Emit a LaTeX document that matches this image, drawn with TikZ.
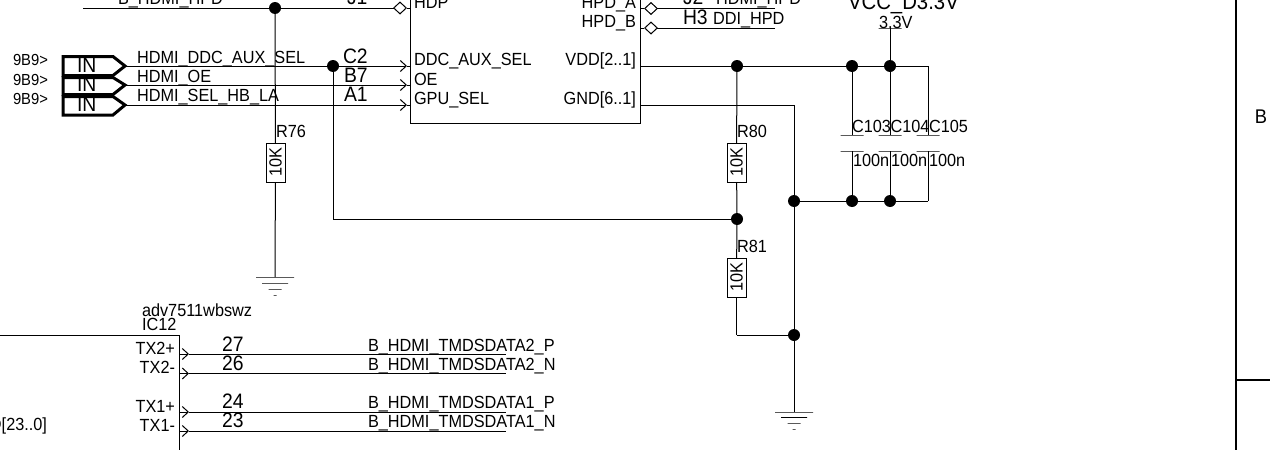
\documentclass[tikz,border=0pt]{standalone}
\usepackage{fontspec}
\setmainfont[FakeStretch=0.925]{Liberation Sans}
\usetikzlibrary{arrows.meta}

\begin{document}
\begin{tikzpicture}[x=1pt,y=-1pt,line width=1pt,
        every node/.style={inner sep=0pt,outer sep=0pt,font=\fontsize{17.6}{17.6}\selectfont},
        txt/.style={anchor=base west},
        rtxt/.style={anchor=base east},
        big/.style={font=\fontsize{20.9}{20.9}\selectfont},
        small/.style={font=\fontsize{16}{16}\selectfont},
        dot/.style={circle,fill=black,minimum size=12pt},
        res/.style={draw,rotate=90,minimum width=39pt,minimum height=19pt},
        bar/.style={draw,line width=.7pt,minimum height=0pt},
        chip/.style={draw},
        flag/.style={line width=3pt,miter limit=2},
        pin/.style={-{Straight Barb[length=6pt,width=11pt,line width=1pt]}},
        bidir/.style={-{Diamond[open,length=14pt,width=13pt,line width=1pt]}}]
        \useasboundingbox (0,0) rectangle (1270,450);
        % chips
        \node[chip,minimum width=230pt,minimum height=140pt] (ic_1) at (525,53) {};
        \node[chip,minimum width=200pt,minimum height=165pt] (ic_12) at (79.5,417.5) {};
        % junctions
        \node[dot] (j_hpd) at (275,8) {};
        \node[dot] (j_sel) at (333,66) {};
        \node[dot] (j_v1) at (737,66) {};
        \node[dot] (j_v2) at (852,66) {};
        \node[dot] (j_v3) at (890,66) {};
        \node[dot] (j_mid) at (737,219) {};
        \node[dot] (j_g1) at (794,201) {};
        \node[dot] (j_g2) at (852,201) {};
        \node[dot] (j_g3) at (890,201) {};
        \node[dot] (j_g4) at (794,335) {};
        % resistors
        \node[res] (r_76) at (275.5,162.5) {10K};
        \node[res] (r_80) at (736.5,162.5) {10K};
        \node[res] (r_81) at (736.5,277.5) {10K};
        % capacitors
        \node[bar,minimum width=23pt] (c_103a) at (852,135) {};
        \node[bar,minimum width=23pt] (c_103b) at (852,151) {};
        \node[bar,minimum width=23pt] (c_104a) at (890,135) {};
        \node[bar,minimum width=23pt] (c_104b) at (890,151) {};
        \node[bar,minimum width=23pt] (c_105a) at (928,135) {};
        \node[bar,minimum width=23pt] (c_105b) at (928,151) {};
        \node[bar,minimum width=23pt] (vcc) at (890,28) {};
        % grounds
        \node[bar,minimum width=38pt] (g_76) at (275,277) {};
        \node[bar,minimum width=26pt] at (275,283) {};
        \node[bar,minimum width=13pt] at (275,289) {};
        \node[bar,minimum width=3pt] at (275,295) {};
        \node[bar,minimum width=38pt] (g_2) at (794,412) {};
        \node[bar,minimum width=26pt] at (794,417.5) {};
        \node[bar,minimum width=13pt] at (794,423) {};
        \node[bar,minimum width=3pt] at (794,429) {};
        % pins and free ends
        \coordinate (hpd_l) at (83,8);
        \coordinate (hdp_d) at (407,8);
        \coordinate (hdp_p) at (410,8);
        \coordinate (f_1) at (125,66);
        \coordinate (f_2) at (125,85);
        \coordinate (f_3) at (125,105);
        \coordinate (ddc_t) at (407,66);
        \coordinate (oe_t) at (407,85);
        \coordinate (gpu_t) at (407,105);
        \coordinate (ddc_p) at (410,66);
        \coordinate (oe_p) at (410,85);
        \coordinate (gpu_p) at (410,105);
        \coordinate (hpa_p) at (640,8.5);
        \coordinate (hpa_d) at (644,8.5);
        \coordinate (hpa_e) at (775,8.5);
        \coordinate (hpb_p) at (640,28);
        \coordinate (hpb_d) at (644,28);
        \coordinate (hpb_e) at (775,28);
        \coordinate (vdd_p) at (640,66);
        \coordinate (gnd_p) at (640,105);
        \coordinate (gnd_c) at (794,105);
        \coordinate (sel_c) at (333,219);
        \coordinate (v_c) at (928,66);
        \coordinate (g_c) at (928,201);
        \coordinate (r81_c) at (736.5,335);
        \path (hpd_l) edge (j_hpd)
        (j_hpd) edge (r_76)
        (r_76) edge (g_76)
        (hdp_d) edge (hdp_p)
        (f_1) edge (j_sel)
        (ddc_t) edge (ddc_p)
        (oe_t) edge (oe_p)
        (gpu_t) edge (gpu_p)
        (j_sel) edge (sel_c)
        (sel_c) edge (j_mid)
        (hpa_p) edge (hpa_d)
        (hpb_p) edge (hpb_d)
        (vdd_p) edge (j_v1)
        (j_v1) edge (j_v2)
        (j_v2) edge (j_v3)
        (j_v3) edge (v_c)
        (vcc) edge (j_v3)
        (j_v1) edge (r_80)
        (r_80) edge (j_mid)
        (j_mid) edge (r_81)
        (r_81) edge (r81_c)
        (r81_c) edge (j_g4)
        (gnd_p) edge (gnd_c)
        (gnd_c) edge (j_g1)
        (j_g1) edge (j_g4)
        (j_g4) edge (g_2)
        (j_g1) edge (j_g2)
        (j_g2) edge (j_g3)
        (j_g3) edge (g_c)
        (j_v2) edge (c_103a)
        (c_103b) edge (j_g2)
        (j_v3) edge (c_104a)
        (c_104b) edge (j_g3)
        (v_c) edge (c_105a)
        (c_105b) edge (g_c);
        \path[pin] (j_sel) edge (ddc_t)
        (f_2) edge (oe_t)
        (f_3) edge (gpu_t);
        \path[bidir] (j_hpd) edge (hdp_d)
        (hpa_e) edge (hpa_d)
        (hpb_e) edge (hpb_d);
        % input flags
        \draw[flag] (63,56.5) -- (113,56.5) -- (f_1) -- (113,75.5) -- (63,75.5) -- cycle;
        \draw[flag] (63,77.5) -- (113,77.5) -- (f_2) -- (113,94.5) -- (63,94.5) -- cycle;
        \draw[flag] (63,96.5) -- (113,96.5) -- (f_3) -- (113,115) -- (63,115) -- cycle;
        % tx pins
        \foreach \y/\n in {354/a,373.5/b,412/c,431/d}{
            \coordinate (tx_\n s) at (179.5,\y);
            \coordinate (tx_\n t) at (189,\y);
            \coordinate (tx_\n e) at (506,\y);
            \path[pin] (tx_\n s) edge (tx_\n t);
            \path (tx_\n t) edge (tx_\n e);
        }
        % sheet frame
        \coordinate (fr_t) at (1235.5,0);
        \coordinate (fr_b) at (1235.5,450);
        \coordinate (fr_m) at (1235.5,380);
        \coordinate (fr_r) at (1270,380);
        \path[line width=2pt] (fr_t) edge (fr_b);
        \path[line width=1.5pt] (fr_m) edge (fr_r);
        % texts
        \node[txt] (t_hpd) at (118,4) {B\_HDMI\_HPD};
        \node[txt,big] (t_j1) at (347,4) {J1};
        \node[txt] (t_hdp) at (414,8) {HDP};
        \node[txt,small] (t_s1) at (13,65.5) {9B9>};
        \node[txt,small] (t_s2) at (13,85) {9B9>};
        \node[txt,small] (t_s3) at (13,104) {9B9>};
        \node[txt,big] (t_in1) at (77,72.7) {IN};
        \node[txt,big] (t_in2) at (77,91.6) {IN};
        \node[txt,big] (t_in3) at (77,111.7) {IN};
        \node[txt] (t_n1) at (137,63) {HDMI\_DDC\_AUX\_SEL};
        \node[txt] (t_n2) at (137,82) {HDMI\_OE};
        \node[txt] (t_n3) at (137,101) {HDMI\_SEL\_HB\_LA};
        \node[txt,big] (t_c2) at (343,63) {C2};
        \node[txt,big] (t_b7) at (344,82) {B7};
        \node[txt,big] (t_a1) at (344,101) {A1};
        \node[txt] (t_ddc) at (414,65.5) {DDC\_AUX\_SEL};
        \node[txt] (t_oe) at (414,85.5) {OE};
        \node[txt] (t_gpu) at (414,104.5) {GPU\_SEL};
        \node[rtxt] (t_hpa) at (636,8.5) {HPD\_A};
        \node[rtxt] (t_hpb) at (636,27) {HPD\_B};
        \node[rtxt] (t_vdd) at (636,65.5) {VDD[2..1]};
        \node[rtxt] (t_gnd) at (636,104.5) {GND[6..1]};
        \node[txt,big] (t_j2) at (683,4) {J2};
        \node[txt] (t_hh) at (716,4) {HDMI\_HPD};
        \node[txt,big] (t_h3) at (683,24) {H3};
        \node[txt] (t_ddi) at (713,24) {DDI\_HPD};
        \node[txt,font=\fontsize{22}{22}\selectfont] (t_vcc) at (848,9) {VCC\_D3.3V};
        \node[txt] (t_33) at (879,28) {3.3V};
        \node[txt] (t_r76) at (276,137) {R76};
        \node[txt] (t_r80) at (737,137) {R80};
        \node[txt] (t_r81) at (737,252.7) {R81};
        \node[txt] (t_c103) at (852,132) {C103};
        \node[txt] (t_c104) at (890.5,132) {C104};
        \node[txt] (t_c105) at (929,132) {C105};
        \node[txt] (t_v103) at (853,166) {100n};
        \node[txt] (t_v104) at (891,166) {100n};
        \node[txt] (t_v105) at (929,166) {100n};
        \node[txt] (t_adv) at (142,316) {adv7511wbswz};
        \node[txt] (t_ic) at (142,330.5) {IC12};
        \node[rtxt] (t_tx2p) at (175,354) {TX2+};
        \node[rtxt] (t_tx2n) at (175,373) {TX2-};
        \node[rtxt] (t_tx1p) at (175,412) {TX1+};
        \node[rtxt] (t_tx1n) at (175,431) {TX1-};
        \node[rtxt] (t_d) at (47,430.5) {D[23..0]};
        \node[txt,big] (t_27) at (222,351) {27};
        \node[txt,big] (t_26) at (222,370) {26};
        \node[txt,big] (t_24) at (222,408) {24};
        \node[txt,big] (t_23) at (222,427) {23};
        \node[txt] (t_d2p) at (368,351) {B\_HDMI\_TMDSDATA2\_P};
        \node[txt] (t_d2n) at (368,370) {B\_HDMI\_TMDSDATA2\_N};
        \node[txt] (t_d1p) at (368,408) {B\_HDMI\_TMDSDATA1\_P};
        \node[txt] (t_d1n) at (368,427) {B\_HDMI\_TMDSDATA1\_N};
        \node[font=\fontsize{19.8}{19.8}\selectfont] (t_b) at (1261,117) {B};
    \end{tikzpicture}
\end{document}
